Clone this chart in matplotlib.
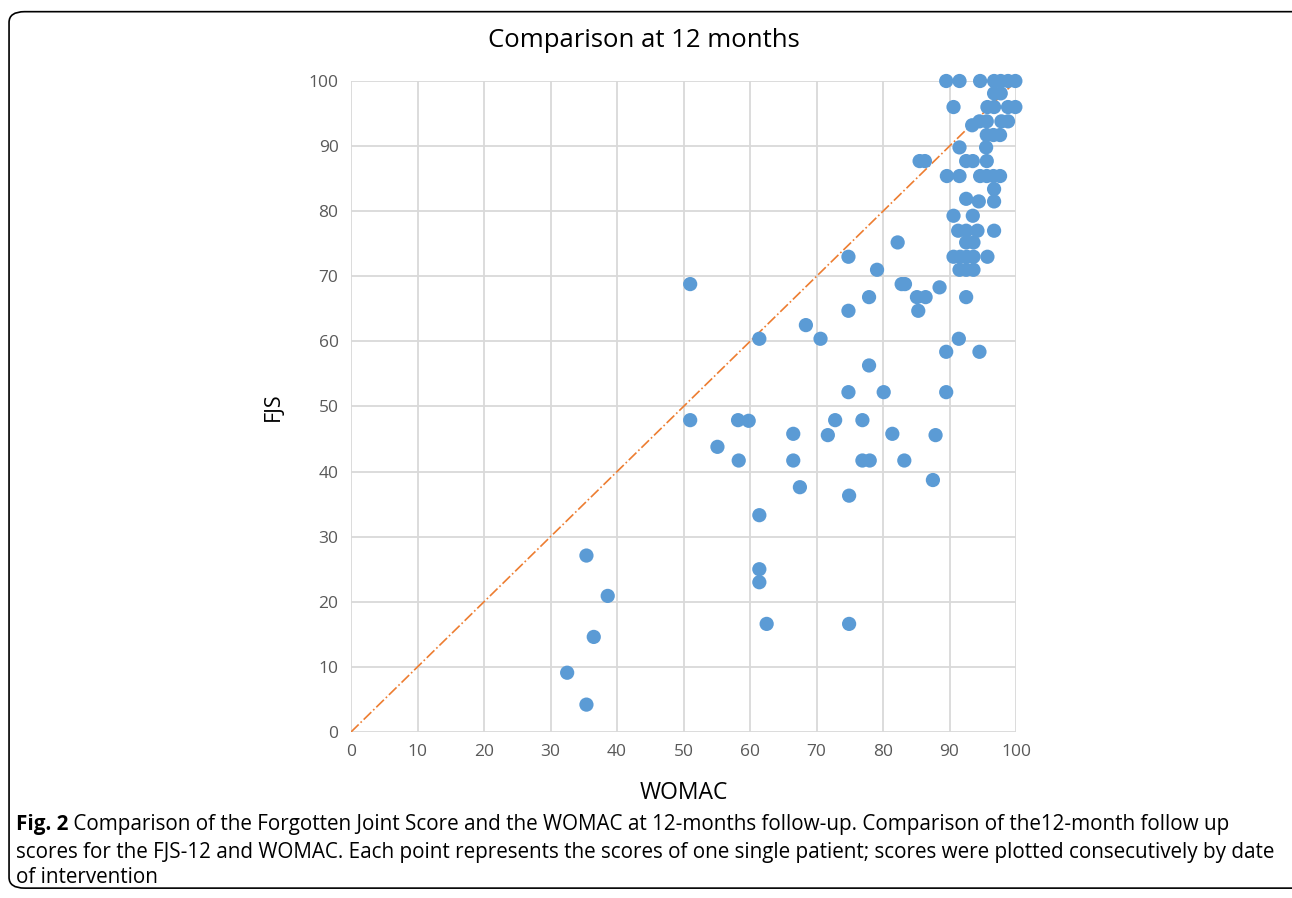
import numpy as np
import matplotlib
matplotlib.use('Agg')
import matplotlib.pyplot as plt
from matplotlib.patches import FancyBboxPatch

plt.rcParams['font.family'] = ['Open Sans', 'DejaVu Sans']

# WOMAC (x) and FJS (y) per patient
womac = [89.5, 91.5, 94.6, 96.7, 97.7, 98.8, 99.9,
         96.7, 97.7,
         90.6, 95.7, 96.7, 98.8, 99.9,
         93.4, 94.5, 95.6, 97.8, 98.8,
         95.6, 96.6, 97.6,
         91.5, 95.5,
         85.5, 86.3, 92.5, 93.5, 95.6,
         89.6, 91.5, 94.6, 95.6, 96.6, 97.6,
         96.7,
         92.5, 94.4, 96.7,
         90.6, 93.5,
         91.3, 92.5, 94.2, 96.7,
         82.2, 92.5, 93.6,
         74.8, 90.6, 91.6, 92.6, 93.6, 95.7,
         79.1, 91.5, 92.5, 93.6,
         51.0, 82.8, 83.3, 88.5,
         77.9, 85.1, 86.4, 92.5,
         74.8, 85.3,
         68.4,
         61.4, 70.6, 91.4,
         89.5, 94.5,
         77.9,
         74.8, 80.1, 89.5,
         51.0, 58.2, 59.8, 72.8, 76.9,
         66.5, 71.7, 81.4, 87.9,
         55.1,
         58.3, 66.5, 76.9, 78.0, 83.2,
         87.5, 67.5, 74.9, 61.4,
         35.4, 61.4, 61.4, 38.6,
         62.5, 74.9,
         36.5, 32.5, 35.4]
fjs = [100, 100, 100, 100, 100, 100, 100,
       98.1, 98.1,
       96.0, 96.0, 96.0, 96.0, 96.0,
       93.2, 93.8, 93.8, 93.8, 93.8,
       91.7, 91.7, 91.7,
       89.8, 89.8,
       87.7, 87.7, 87.7, 87.7, 87.7,
       85.4, 85.4, 85.4, 85.4, 85.4, 85.4,
       83.4,
       81.9, 81.5, 81.5,
       79.3, 79.3,
       77.0, 77.0, 77.0, 77.0,
       75.2, 75.2, 75.2,
       73.0, 73.0, 73.0, 73.0, 73.0, 73.0,
       71.0, 71.0, 71.0, 71.0,
       68.8, 68.8, 68.8, 68.3,
       66.8, 66.8, 66.8, 66.8,
       64.7, 64.7,
       62.5,
       60.4, 60.4, 60.4,
       58.4, 58.4,
       56.3,
       52.2, 52.2, 52.2,
       47.9, 47.9, 47.8, 47.9, 47.9,
       45.8, 45.6, 45.8, 45.6,
       43.8,
       41.7, 41.7, 41.7, 41.7, 41.7,
       38.7, 37.6, 36.3, 33.3,
       27.1, 25.0, 23.0, 20.9,
       16.6, 16.6,
       14.6, 9.1, 4.2]

ticks = [0, 10, 20, 30, 40, 50, 60, 70, 80, 90, 100]

fig = plt.figure(figsize=(12.92, 8.98), dpi=100)
ax = fig.add_axes([0.2717, 0.1849, 0.5147, 0.7249])

ax.plot([0, 100], [0, 100], color='#ED7D31', linestyle='-.', linewidth=1.2, zorder=2)
ax.scatter(womac, fjs, s=105, color='#5B9BD5', edgecolors='none', zorder=3, clip_on=False)

ax.set_xlim(0, 100)
ax.set_ylim(0, 100)
ax.set_xticks(ticks)
ax.set_yticks(ticks)
ax.tick_params(length=0, labelsize=12.5, colors='#595959', pad=9)
ax.grid(color='#d9d9d9', linewidth=1.3)
ax.set_axisbelow(True)
for s in ax.spines.values():
    s.set_visible(False)
ax.set_xlabel('WOMAC', fontsize=16.5, labelpad=15)
ax.set_ylabel('FJS', fontsize=15.5, labelpad=18)

fig.text(0.4985, 0.955, 'Comparison at 12 months', fontsize=18.5, ha='center', va='center')

# rounded frame around the figure
frame = FancyBboxPatch((0.007, 0.011), 1.1, 0.976, boxstyle='round,pad=0,rounding_size=0.012',
                       transform=fig.transFigure, fill=False, edgecolor='black',
                       linewidth=1.2, clip_on=False)
fig.patches.append(frame)

# caption
cap = 14.9
bold = fig.text(0.012, 0.0757, 'Fig. 2', fontsize=cap, fontweight='bold', va='baseline')
ax.annotate(' Comparison of the Forgotten Joint Score and the WOMAC at 12-months follow-up. '
            'Comparison of the12-month follow up',
            xy=(1, 0), xycoords=bold, fontsize=cap, va='bottom', annotation_clip=False)
fig.text(0.012, 0.0445, 'scores for the FJS-12 and WOMAC. Each point represents the scores of one '
         'single patient; scores were plotted consecutively by date',
         fontsize=cap, va='baseline')
fig.text(0.012, 0.0167, 'of intervention', fontsize=cap, va='baseline')

fig.savefig('out.png', dpi=100)
